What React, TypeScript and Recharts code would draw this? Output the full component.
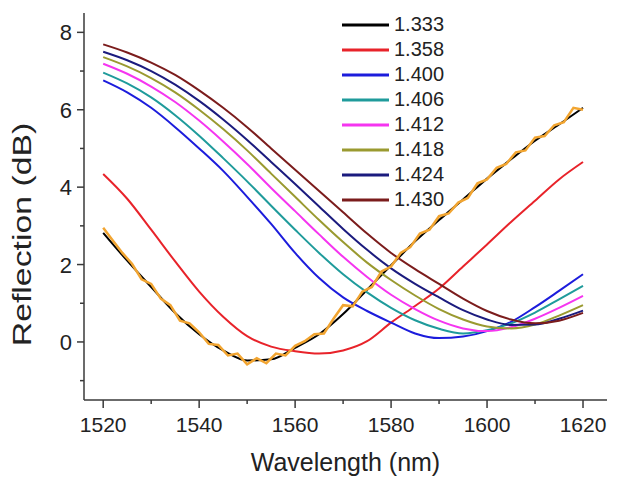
import React from 'react';
import { LineChart, Line, XAxis, YAxis, Legend } from 'recharts';

const lambda = [1520, 1525, 1530, 1535, 1540, 1545, 1550, 1555, 1560, 1565, 1570, 1575, 1580, 1585, 1590, 1595, 1600, 1605, 1610, 1615, 1620];
const n1333 = [2.82, 2.1, 1.42, 0.75, 0.2, -0.22, -0.48, -0.45, -0.15, 0.2, 0.72, 1.35, 1.98, 2.6, 3.15, 3.68, 4.22, 4.72, 5.2, 5.62, 6.05];
const n1358 = [4.34, 3.7, 2.9, 2.08, 1.3, 0.65, 0.15, -0.12, -0.24, -0.3, -0.22, 0.02, 0.5, 0.93, 1.38, 1.95, 2.52, 3.1, 3.65, 4.2, 4.65];
const n1400 = [6.76, 6.45, 6.05, 5.55, 5.0, 4.42, 3.75, 3.05, 2.3, 1.65, 1.15, 0.8, 0.5, 0.22, 0.1, 0.14, 0.28, 0.52, 0.9, 1.32, 1.75];
const n1406 = [6.96, 6.68, 6.32, 5.86, 5.33, 4.75, 4.15, 3.52, 2.9, 2.3, 1.75, 1.28, 0.88, 0.56, 0.34, 0.22, 0.3, 0.48, 0.76, 1.1, 1.45];
const n1412 = [7.19, 6.93, 6.6, 6.2, 5.72, 5.18, 4.6, 3.98, 3.38, 2.78, 2.2, 1.68, 1.22, 0.85, 0.55, 0.35, 0.28, 0.38, 0.6, 0.88, 1.19];
const n1418 = [7.36, 7.12, 6.82, 6.45, 6.0, 5.5, 4.95, 4.35, 3.75, 3.15, 2.58, 2.05, 1.6, 1.2, 0.85, 0.58, 0.4, 0.35, 0.45, 0.68, 0.95];
const n1424 = [7.5, 7.28, 7.0, 6.65, 6.23, 5.75, 5.22, 4.65, 4.08, 3.5, 2.92, 2.38, 1.9, 1.5, 1.15, 0.82, 0.58, 0.44, 0.45, 0.6, 0.81];
const n1430 = [7.69, 7.48, 7.22, 6.9, 6.5, 6.05, 5.55, 5.0, 4.45, 3.9, 3.35, 2.8, 2.3, 1.88, 1.5, 1.12, 0.8, 0.58, 0.48, 0.55, 0.75];

const measLambda = [1520, 1522, 1524, 1526, 1528, 1530, 1532, 1534, 1536, 1538, 1540, 1542, 1544, 1546, 1548, 1550, 1552, 1554, 1556, 1558, 1560, 1562, 1564, 1566, 1568, 1570, 1572, 1574, 1576, 1578, 1580, 1582, 1584, 1586, 1588, 1590, 1592, 1594, 1596, 1598, 1600, 1602, 1604, 1606, 1608, 1610, 1612, 1614, 1616, 1618, 1620];
const measured = [2.95, 2.62, 2.3, 2.02, 1.62, 1.5, 1.12, 0.95, 0.55, 0.48, 0.25, -0.05, -0.08, -0.35, -0.3, -0.58, -0.42, -0.55, -0.3, -0.35, -0.1, 0.02, 0.2, 0.22, 0.6, 0.95, 0.92, 1.3, 1.42, 1.82, 1.95, 2.3, 2.45, 2.8, 2.9, 3.25, 3.32, 3.6, 3.72, 4.1, 4.2, 4.5, 4.6, 4.9, 4.95, 5.28, 5.32, 5.6, 5.68, 6.05, 6.0];

const seriesNames = ['1.333', '1.358', '1.400', '1.406', '1.412', '1.418', '1.424', '1.430'];
const seriesValues = [n1333, n1358, n1400, n1406, n1412, n1418, n1424, n1430];
const seriesColors = ['#000000', '#e8232a', '#1c1cdc', '#1f9b9b', '#f535f0', '#9a9a30', '#1b1b7e', '#7b1c1c'];

const xTicks = [1520, 1530, 1540, 1550, 1560, 1570, 1580, 1590, 1600, 1610, 1620];
const yTicks = [-1, 0, 1, 2, 3, 4, 5, 6, 7, 8];

const rows = lambda.map((l, i) => {
  const r: Record<string, number> = { x: l };
  seriesNames.forEach((n, k) => { r[n] = seriesValues[k][i]; });
  return r;
});
const measRows = measLambda.map((l, i) => ({ x: l, meas: measured[i] }));

const FONT = '"Liberation Sans", Arial, sans-serif';
const AXIS = '#3a3a3a';
const TEXT = '#222222';

const XTick = (props: any) => {
  const { x, y, payload } = props;
  const major = payload.value % 20 === 0;
  return (
    <g>
      <line x1={x} y1={y} x2={x} y2={y + (major ? 8 : 4)} stroke={AXIS} strokeWidth={1.5} />
      {major && (
        <text x={x} y={y + 32} textAnchor="middle" fontSize={21} fill={TEXT} fontFamily={FONT}>
          {payload.value}
        </text>
      )}
    </g>
  );
};

const YTick = (props: any) => {
  const { x, y, payload } = props;
  const major = payload.value % 2 === 0;
  return (
    <g>
      <line x1={x - (major ? 7 : 4)} y1={y} x2={x} y2={y} stroke={AXIS} strokeWidth={1.5} />
      {major && (
        <text x={x - 12} y={y + 8} textAnchor="end" fontSize={22} fill={TEXT} fontFamily={FONT}>
          {payload.value}
        </text>
      )}
    </g>
  );
};

const renderLegend = (props: any) => {
  const items = (props.payload || []).filter((p: any) => p.type !== 'none');
  return (
    <div style={{ fontFamily: FONT, fontSize: 20, color: TEXT }}>
      {items.map((p: any) => (
        <div key={p.value} style={{ display: 'flex', alignItems: 'center', height: 25 }}>
          <svg width={50} height={6} style={{ marginRight: 3 }}>
            <line x1={1} y1={3} x2={48} y2={3} stroke={p.color} strokeWidth={3} />
          </svg>
          <span>{p.value}</span>
        </div>
      ))}
    </div>
  );
};

export default function App() {
  return (
    <div style={{ position: 'absolute', left: 0, top: 0, background: '#fff' }}>
      <LineChart width={618} height={488} margin={{ top: 13, right: 11, bottom: 0, left: 0 }}>
        <XAxis
          dataKey="x"
          type="number"
          domain={[1516, 1625]}
          ticks={xTicks}
          interval={0}
          allowDataOverflow
          height={88}
          tickSize={0}
          tickMargin={0}
          tickLine={false}
          axisLine={{ stroke: AXIS, strokeWidth: 1.5 }}
          tick={<XTick />}
          label={{
            content: (p: any) => {
              const vb = p.viewBox;
              return (
                <text x={vb.x + vb.width / 2} y={vb.y + 71} textAnchor="middle" fontSize={25} fill={TEXT} fontFamily={FONT}>
                  Wavelength (nm)
                </text>
              );
            },
          }}
        />
        <YAxis
          type="number"
          domain={[-1.5, 8.5]}
          ticks={yTicks}
          interval={0}
          allowDataOverflow
          width={84}
          tickSize={0}
          tickMargin={0}
          tickLine={false}
          axisLine={{ stroke: AXIS, strokeWidth: 1.5 }}
          tick={<YTick />}
          label={{
            content: (p: any) => {
              const vb = p.viewBox;
              const cx = vb.x + 22;
              const cy = vb.y + vb.height / 2 + 28;
              return (
                <text
                  x={0}
                  y={0}
                  transform={`translate(${cx}, ${cy}) rotate(-90) scale(1.3, 1)`}
                  textAnchor="middle"
                  dominantBaseline="central"
                  fontSize={26}
                  fill={TEXT}
                  fontFamily={FONT}
                >
                  Reflection (dB)
                </text>
              );
            },
          }}
        />
        <Legend
          layout="vertical"
          align="center"
          verticalAlign="middle"
          content={renderLegend}
          wrapperStyle={{ left: 341, top: 12, width: 130 }}
        />
        {seriesNames.map((n, k) => (
          <Line
            key={n}
            data={rows}
            dataKey={n}
            name={n}
            type="monotone"
            stroke={seriesColors[k]}
            strokeWidth={2}
            dot={false}
            isAnimationActive={false}
          />
        ))}
        <Line
          data={measRows}
          dataKey="meas"
          name="measured"
          type="linear"
          stroke="#f2a531"
          strokeWidth={2.5}
          dot={false}
          legendType="none"
          isAnimationActive={false}
        />
      </LineChart>
    </div>
  );
}
